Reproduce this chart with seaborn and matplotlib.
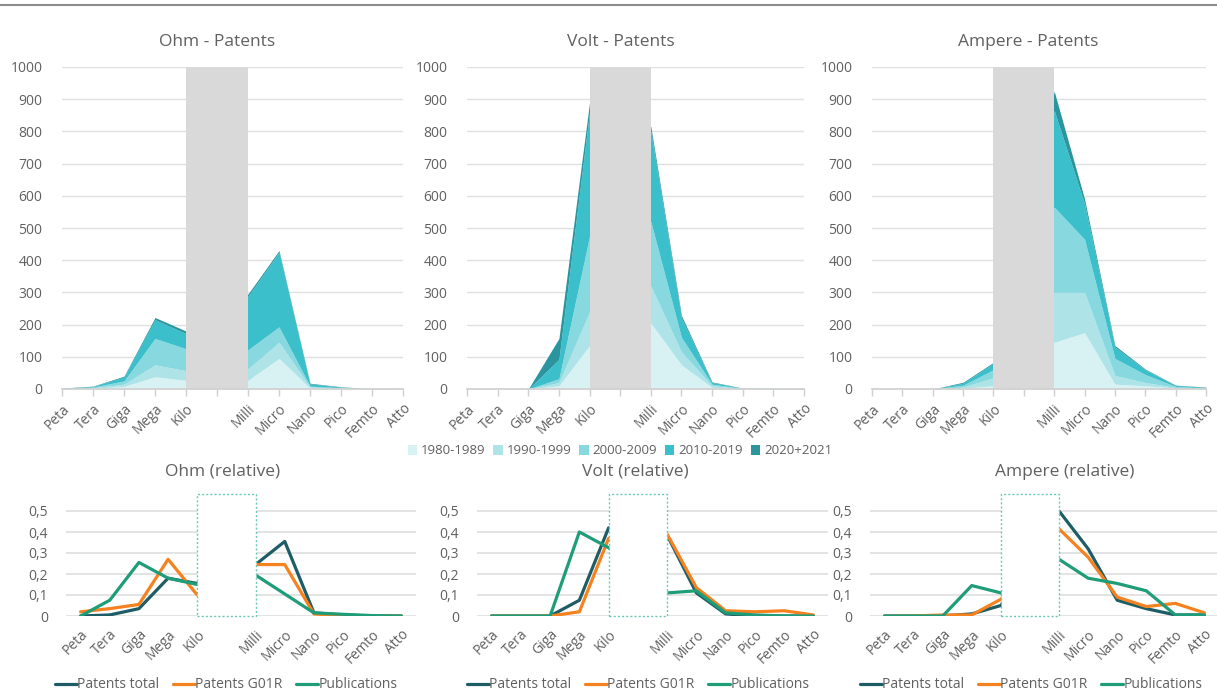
import numpy as np
import pandas as pd
import matplotlib
matplotlib.use("Agg")
import matplotlib.pyplot as plt
from matplotlib.patches import Patch, Rectangle
from matplotlib.lines import Line2D
import seaborn as sns

# Categories (prefixes), the base unit slot is left blank
prefixes = ["Peta", "Tera", "Giga", "Mega", "Kilo", "Milli", "Micro", "Nano", "Pico", "Femto", "Atto"]
slots = [0, 1, 2, 3, 4, 6, 7, 8, 9, 10, 11]
tick_labels = ["Peta", "Tera", "Giga", "Mega", "Kilo", "", "Milli", "Micro", "Nano", "Pico", "Femto", "Atto"]

periods = ["1980-1989", "1990-1999", "2000-2009", "2010-2019", "2020+2021"]

# Patents per decade (stacked layers)
ohm_80s = [1, 2, 8, 38, 27, 27, 95, 3, 2, 0, 0]
ohm_90s = [0, 2, 7, 37, 30, 36, 50, 3, 1, 0, 0]
ohm_00s = [1, 2, 10, 82, 68, 59, 48, 3, 1, 1, 0]
ohm_10s = [0, 2, 12, 58, 47, 166, 232, 7, 2, 0, 0]
ohm_20s = [1, 1, 3, 7, 8, 7, 5, 2, 1, 0, 0]

volt_80s = [0, 0, 0, 10, 135, 205, 75, 5, 1, 0, 0]
volt_90s = [0, 0, 0, 10, 105, 115, 40, 5, 1, 1, 0]
volt_00s = [0, 0, 0, 12, 235, 200, 45, 5, 0, 0, 0]
volt_10s = [0, 0, 0, 60, 385, 280, 60, 5, 1, 1, 0]
volt_20s = [0, 0, 0, 65, 30, 15, 8, 2, 0, 0, 1]

amp_80s = [0, 0, 0, 3, 10, 145, 175, 15, 10, 3, 1]
amp_90s = [0, 0, 0, 3, 25, 155, 125, 27, 10, 2, 1]
amp_00s = [0, 0, 0, 6, 25, 265, 165, 53, 25, 3, 1]
amp_10s = [0, 0, 0, 6, 20, 300, 110, 35, 15, 3, 2]
amp_20s = [0, 0, 0, 3, 3, 60, 15, 5, 2, 1, 1]

# Relative shares
series_names = ["Patents total", "Patents G01R", "Publications"]
ohm_total = [0, 0.005, 0.035, 0.18, 0.155, 0.245, 0.355, 0.015, 0.005, 0, 0]
ohm_g01r = [0.02, 0.035, 0.055, 0.27, 0.10, 0.245, 0.245, 0.01, 0, 0, 0]
ohm_pub = [0, 0.075, 0.255, 0.18, 0.15, 0.195, 0.105, 0.015, 0.008, 0.002, 0]

volt_total = [0, 0, 0, 0.075, 0.42, 0.385, 0.11, 0.01, 0, 0, 0]
volt_g01r = [0, 0, 0, 0.02, 0.37, 0.39, 0.135, 0.025, 0.02, 0.025, 0.005]
volt_pub = [0, 0, 0, 0.40, 0.325, 0.11, 0.12, 0.015, 0.005, 0, 0]

amp_total = [0, 0, 0, 0.01, 0.05, 0.50, 0.32, 0.075, 0.035, 0.005, 0.005]
amp_g01r = [0, 0, 0.005, 0.005, 0.08, 0.415, 0.28, 0.09, 0.045, 0.06, 0.015]
amp_pub = [0, 0, 0, 0.145, 0.11, 0.27, 0.18, 0.155, 0.12, 0.005, 0.005]

area_colors = ["#d8f2f4", "#aee3e8", "#87d9df", "#3bbfcb", "#2a959e"]
line_colors = ["#1e5d65", "#f5821f", "#1f9d78"]
grey_txt = "#606060"
grid_c = "#e0e0e0"

sns.set_theme(style="white")
plt.rcParams["font.family"] = ["Open Sans", "DejaVu Sans"]

fig = plt.figure(figsize=(12.17, 6.94), dpi=100)
W, H = 1217, 694


def px_axes(x0, x1, ytop, ybot):
    return fig.add_axes([x0 / W, 1 - ybot / H, (x1 - x0) / W, (ybot - ytop) / H])


top_layers = [
    [ohm_80s, ohm_90s, ohm_00s, ohm_10s, ohm_20s],
    [volt_80s, volt_90s, volt_00s, volt_10s, volt_20s],
    [amp_80s, amp_90s, amp_00s, amp_10s, amp_20s],
]
top_boxes = [(62, 403), (467, 804), (872, 1206)]
top_titles = [("Ohm - Patents", 217), ("Volt - Patents", 621), ("Ampere - Patents", 1028)]

for layers, (x0, x1), (title, tx) in zip(top_layers, top_boxes, top_titles):
    ax = px_axes(x0, x1, 67, 389)
    cum = np.cumsum(np.array(layers, dtype=float), axis=0)
    base = np.zeros(len(slots))
    for i in range(len(periods)):
        ax.fill_between(slots, base, cum[i], color=area_colors[i], lw=0, zorder=2)
        base = cum[i]
    ax.axvspan(4, 6, ymin=0, ymax=1, color="#d9d9d9", lw=0, zorder=3)
    ax.set_xlim(0, 11)
    ax.set_ylim(0, 1000)
    ax.set_yticks(range(0, 1001, 100))
    ax.set_xticks(range(12))
    ax.set_xticklabels(tick_labels, rotation=45, ha="right", rotation_mode="anchor")
    ax.tick_params(axis="x", length=5, color="#d0d0d0", width=1, labelsize=10,
                   labelcolor=grey_txt, pad=4, bottom=True)
    ax.tick_params(axis="y", length=0, labelsize=10, labelcolor=grey_txt, pad=14)
    ax.grid(axis="y", color=grid_c, lw=1, zorder=0)
    ax.set_axisbelow(True)
    for s in ["top", "right", "left"]:
        ax.spines[s].set_visible(False)
    ax.spines["bottom"].set_color("#d0d0d0")
    ax.spines["bottom"].set_zorder(4)
    fig.text(tx / W, 1 - 42 / H, title, ha="center", va="center", fontsize=12.5, color=grey_txt)

top_handles = [Patch(facecolor=c, edgecolor="none") for c in area_colors]
fig.legend(top_handles, periods, loc="center", bbox_to_anchor=(620 / W, 1 - 451 / H), ncol=5,
           frameon=False, fontsize=9.5, labelcolor=grey_txt, handlelength=0.7, handleheight=0.7,
           handletextpad=0.3, columnspacing=0.6)

bottom_data = [
    [ohm_total, ohm_g01r, ohm_pub],
    [volt_total, volt_g01r, volt_pub],
    [amp_total, amp_g01r, amp_pub],
]
bottom_boxes = [(66, 416), (477, 828), (870, 1219)]
bottom_titles = [("Ohm (relative)", 223), ("Volt (relative)", 635), ("Ampere (relative)", 1065)]
legend_x = [226, 638, 1031]

for data, (x0, x1), (title, tx), lx in zip(bottom_data, bottom_boxes, bottom_titles, legend_x):
    ax = px_axes(x0, x1, 490, 616)
    df = pd.DataFrame({
        "slot": slots * 3,
        "value": data[0] + data[1] + data[2],
        "series": sum([[n] * len(slots) for n in series_names], []),
    })
    sns.lineplot(data=df, x="slot", y="value", hue="series", palette=line_colors,
                 hue_order=series_names, linewidth=2.3, legend=False, ax=ax, zorder=3)
    ax.add_patch(Rectangle((4, 0), 2, 0.58, facecolor="white", edgecolor="#6cc8b4",
                           lw=1, ls=(0, (1.5, 1.5)), zorder=4, clip_on=False))
    ax.set_xlim(-0.5, 11.5)
    ax.set_ylim(0, 0.6)
    ax.set_yticks([0, 0.1, 0.2, 0.3, 0.4, 0.5])
    ax.set_yticklabels(["0", "0,1", "0,2", "0,3", "0,4", "0,5"])
    ax.set_xticks(range(12))
    ax.set_xticklabels(tick_labels, rotation=45, ha="right", rotation_mode="anchor")
    ax.tick_params(axis="x", length=0, labelsize=10, labelcolor=grey_txt, pad=8)
    ax.tick_params(axis="y", length=0, labelsize=10, labelcolor=grey_txt, pad=13)
    ax.set_xlabel("")
    ax.set_ylabel("")
    ax.grid(axis="y", color=grid_c, lw=1.3, zorder=0)
    ax.set_axisbelow(True)
    for s in ax.spines.values():
        s.set_visible(False)
    fig.text(tx / W, 1 - 472 / H, title, ha="center", va="center", fontsize=12.5, color=grey_txt)
    handles = [Line2D([], [], color=c, lw=2.3) for c in line_colors]
    fig.legend(handles, series_names, loc="center", bbox_to_anchor=(lx / W, 1 - 685 / H), ncol=3,
               frameon=False, fontsize=10, labelcolor=grey_txt, handlelength=1.6,
               handletextpad=0.0, columnspacing=1.0)

fig.add_artist(Line2D([0, 1], [1 - 5 / H, 1 - 5 / H], color="#8c8c8c", lw=1.5))

fig.savefig("out.png", dpi=100, facecolor="white")
